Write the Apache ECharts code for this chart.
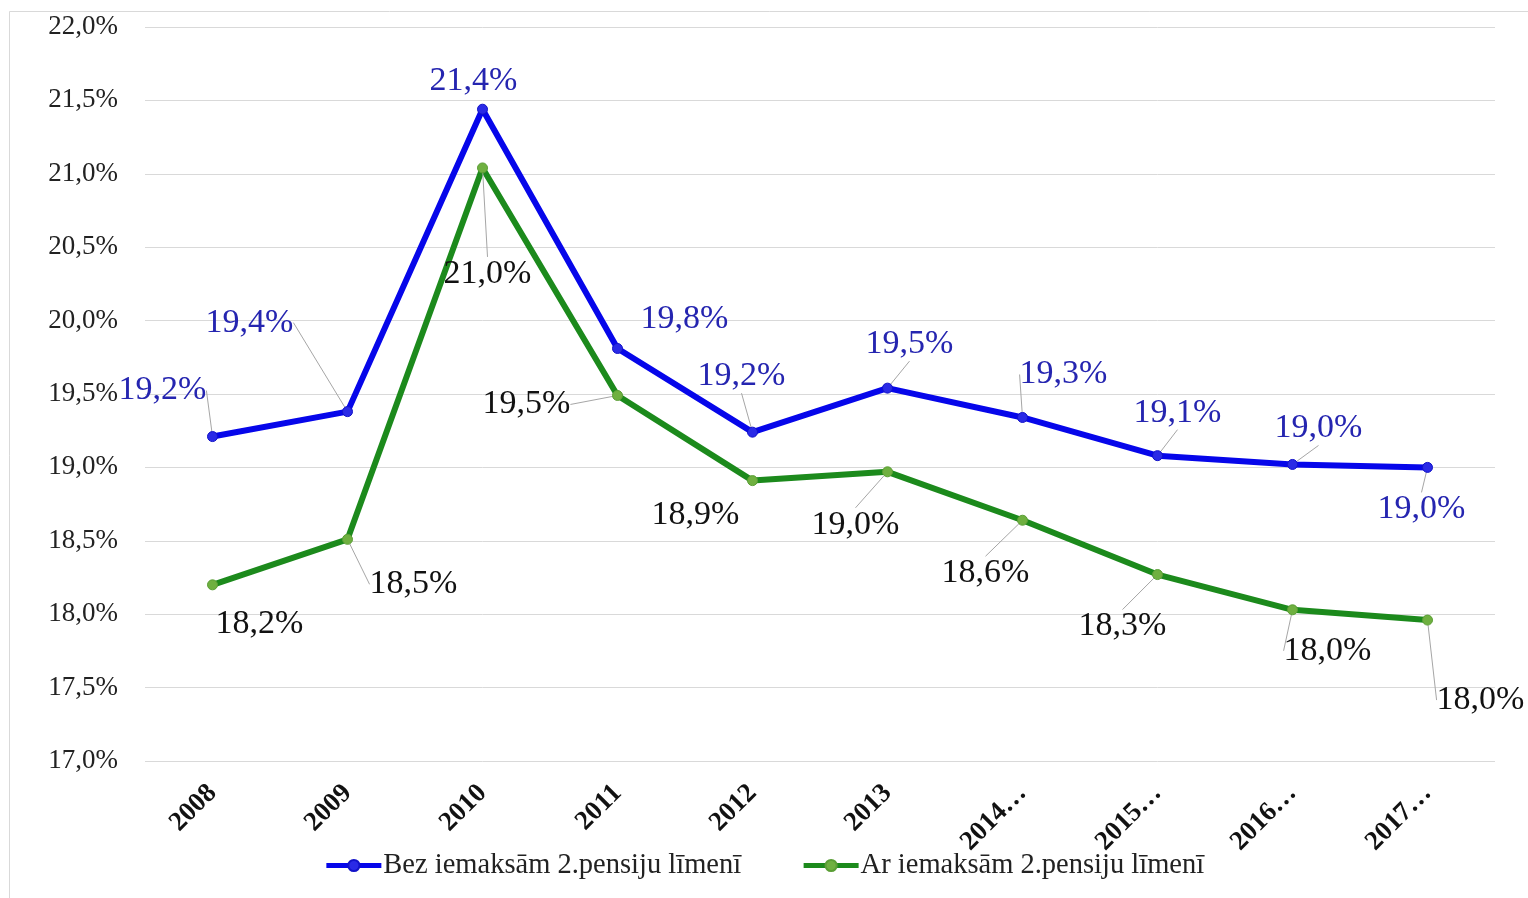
<!DOCTYPE html>
<html>
<head>
<meta charset="utf-8">
<style>
  html, body { margin: 0; padding: 0; background: #fff; }
  #chart { width: 1528px; height: 898px; }
</style>
<script src="https://cdn.jsdelivr.net/npm/echarts@6/dist/echarts.min.js"></script>
</head>
<body>
<div id="chart"></div>
<script>
// ---- data ----
var categories = ['2008', '2009', '2010', '2011', '2012', '2013', '2014…', '2015…', '2016…', '2017…'];
var seriesNames = ['Bez iemaksām 2.pensiju līmenī', 'Ar iemaksām 2.pensiju līmenī'];
var bezValues = [19.21, 19.38, 21.44, 19.81, 19.24, 19.54, 19.34, 19.08, 19.02, 19.00];
var arValues  = [18.20, 18.51, 21.04, 19.49, 18.91, 18.97, 18.64, 18.27, 18.03, 17.96];
var yTicks = [17.0, 17.5, 18.0, 18.5, 19.0, 19.5, 20.0, 20.5, 21.0, 21.5, 22.0];

// ---- label placement (style, not data) ----
var labelOffsets = [
  [[-50,-46],[-98,-89],[-9,-28],[67,-29],[-11,-56],[22,-44],[41,-43],[20,-43],[26,-36],[-6,42]],
  [[47,39],[66,45],[5,106],[-91,9],[-57,34],[-32,53],[-37,53],[-35,52],[35,41],[53,80]]
];
var labelLineShow = [
  [true, true, false, false, true, true, true, true, true, true],
  [false, true, true, true, false, true, true, true, true, true]
];

var FONT = '"Liberation Serif", "Times New Roman", serif';
function pct(v) { return (Math.round(v * 10) / 10).toFixed(1).replace('.', ',') + '%'; }

function buildData(values, si) {
  return values.map(function (v, i) {
    return { value: v, labelLine: { show: labelLineShow[si][i] } };
  });
}

var chart = echarts.init(document.getElementById('chart'));
chart.setOption({
  backgroundColor: '#fff',
  animation: false,
  graphic: [{
    type: 'rect',
    shape: { x: 9.5, y: 11.5, width: 1530, height: 900 },
    style: { fill: 'none', stroke: '#d9d9d9', lineWidth: 1 },
    silent: true, z: -10
  }],
  grid: { left: 145, right: 33, top: 27, bottom: 137 },
  legend: {
    top: 846,
    left: 'center',
    itemWidth: 55,
    itemHeight: 14,
    itemGap: 60,
    lineStyle: { width: 5 },
    textStyle: { fontFamily: FONT, fontSize: 28.5, color: '#222', padding: [0, 0, 0, -3] },
    data: seriesNames
  },
  xAxis: {
    type: 'category',
    data: categories,
    boundaryGap: true,
    axisLine: { show: false },
    axisTick: { show: false },
    axisLabel: {
      rotate: 45,
      margin: 28,
      interval: 0,
      fontFamily: FONT,
      fontSize: 27,
      fontWeight: 'bold',
      color: '#111'
    }
  },
  yAxis: {
    type: 'value',
    min: yTicks[0],
    max: yTicks[yTicks.length - 1],
    interval: 0.5,
    axisLine: { show: false },
    axisTick: { show: false },
    splitLine: { lineStyle: { color: '#d9d9d9', width: 1 } },
    axisLabel: {
      margin: 27,
      fontFamily: FONT,
      fontSize: 27,
      color: '#222',
      formatter: function (v) { return pct(v); }
    }
  },
  series: [
    {
      name: seriesNames[0],
      type: 'line',
      data: buildData(bezValues, 0),
      symbol: 'circle',
      symbolSize: 10,
      lineStyle: { color: '#0606ea', width: 6 },
      itemStyle: { color: '#2a2ae6', borderColor: '#1212c8', borderWidth: 1 },
      label: {
        show: true,
        position: 'inside',
        fontFamily: FONT,
        fontSize: 34,
        color: '#2525b0',
        formatter: function (p) { return pct(p.value); }
      },
      labelLine: { show: true, lineStyle: { color: '#a6a6a6', width: 1 } },
      labelLayout: function (p) {
        var o = labelOffsets[0][p.dataIndex];
        return { dx: o[0], dy: o[1] };
      },
      z: 3
    },
    {
      name: seriesNames[1],
      type: 'line',
      data: buildData(arValues, 1),
      symbol: 'circle',
      symbolSize: 10,
      lineStyle: { color: '#1c8a1c', width: 6 },
      itemStyle: { color: '#6fb040', borderColor: '#5a9e35', borderWidth: 1 },
      label: {
        show: true,
        position: 'inside',
        fontFamily: FONT,
        fontSize: 34,
        color: '#111',
        formatter: function (p) { return pct(p.value); }
      },
      labelLine: { show: true, lineStyle: { color: '#a6a6a6', width: 1 } },
      labelLayout: function (p) {
        var o = labelOffsets[1][p.dataIndex];
        return { dx: o[0], dy: o[1] };
      },
      z: 2
    }
  ]
});
</script>
</body>
</html>
